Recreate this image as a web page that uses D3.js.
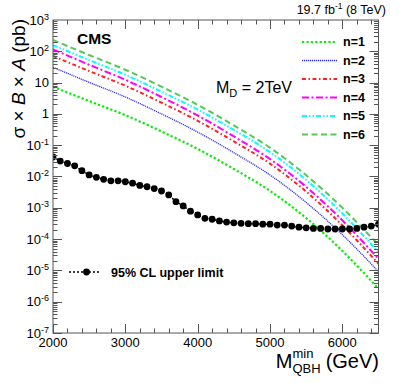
<!DOCTYPE html>
<html>
<head>
<meta charset="utf-8">
<script src="https://cdn.jsdelivr.net/npm/d3@7"></script>
<style>
  body { margin: 0; background: #fff; }
  svg text { font-family: "Liberation Sans", Arial, sans-serif; }
</style>
</head>
<body>
<div id="chart"></div>
<script>
const width = 399;
const height = 383;

// model mass points (GeV)
const massGrid = [2000, 2500, 3000, 3500, 4000, 4500, 5000, 5500, 6000, 6500];

// sigma x B x A (pb) per n
const n1 = [7.4, 2.57, 0.91, 0.275, 0.076, 0.0174, 0.00347, 4.7e-4, 4.2e-5, 2.6e-6];
const n2 = [30.9, 10.2, 3.47, 1.0, 0.263, 0.0575, 0.0112, 1.48e-3, 1.38e-4, 9.1e-6];
const n3 = [70.8, 23.4, 7.94, 2.29, 0.603, 0.132, 0.0257, 3.31e-3, 2.75e-4, 1.62e-5];
const n4 = [115, 37.2, 12.3, 3.47, 0.891, 0.191, 0.0363, 4.68e-3, 3.98e-4, 2.34e-5];
const n5 = [158, 52.5, 17.8, 5.13, 1.38, 0.309, 0.0603, 7.76e-3, 6.61e-4, 3.8e-5];
const n6 = [229, 75.9, 25.7, 7.41, 1.95, 0.427, 0.0832, 0.011, 1.0e-3, 6.46e-5];

// 95% CL upper limit, every 100 GeV from 2000 to 6500
const limitMass = d3.range(2000, 6501, 100);
const limitVals = [
  0.042, 0.031, 0.026, 0.022, 0.0153, 0.0112, 0.0094, 0.0081, 0.0073, 0.0073,
  0.0068, 0.0061, 0.0052, 0.0047, 0.0041, 0.00344, 0.00257, 0.00157, 0.00115, 0.00078,
  0.00059, 0.00046, 0.00043, 0.00038, 0.00035, 0.00033, 0.00032, 0.00031, 0.00031, 0.00030,
  0.00030, 0.00028, 0.00028, 0.00026, 0.00024, 0.00023, 0.00022, 0.00022, 0.00021, 0.00021,
  0.00021, 0.00021, 0.00022, 0.00024, 0.00026, 0.00030
];

const seriesNames = ["n=1", "n=2", "n=3", "n=4", "n=5", "n=6"];
const seriesVals = [n1, n2, n3, n4, n5, n6];
const seriesColor = ["#00f000", "#3030ff", "#ff2020", "#ff00ff", "#00ffff", "#55c855"];
const seriesDash = ["2.2,2.2", "1.2,0.8", "4,2.5,1.5,2.5", "7,2.5,2,2.5", "5,2,1.5,2,1.5,2", "6,3.5"];
const seriesWidth = [2.2, 1.3, 2, 2, 2, 2];

const xTickLabels = [2000, 3000, 4000, 5000, 6000];

const svg = d3.select("#chart").append("svg")
  .attr("width", width)
  .attr("height", height);

const x = d3.scaleLinear().domain([2000, 6500]).range([53, 378.5]);
const y = d3.scaleLog().domain([1e-7, 1e3]).range([333, 20]);

svg.append("clipPath").attr("id", "clip")
  .append("rect")
  .attr("x", x(2000)).attr("y", y(1e3))
  .attr("width", x(6500) - x(2000)).attr("height", y(1e-7) - y(1e3));

// model curves
const line = d3.line()
  .x((d, i) => x(massGrid[i]))
  .y(d => y(d))
  .curve(d3.curveMonotoneX);

const curves = svg.append("g").attr("clip-path", "url(#clip)");
seriesVals.forEach((vals, k) => {
  curves.append("path")
    .attr("d", line(vals))
    .attr("fill", "none")
    .attr("stroke", seriesColor[k])
    .attr("stroke-width", seriesWidth[k])
    .attr("stroke-dasharray", seriesDash[k]);
});

// limit line + markers
const limLine = d3.line()
  .x((d, i) => x(limitMass[i]))
  .y(d => y(d));

curves.append("path")
  .attr("d", limLine(limitVals))
  .attr("fill", "none")
  .attr("stroke", "#000")
  .attr("stroke-width", 1.5)
  .attr("stroke-dasharray", "2,2");

curves.selectAll("circle.lim")
  .data(limitVals)
  .enter().append("circle")
  .attr("class", "lim")
  .attr("cx", (d, i) => x(limitMass[i]))
  .attr("cy", d => y(d))
  .attr("r", 3.4)
  .attr("fill", "#000");

// frame and ticks (ROOT style: inside, all four sides)
const frame = svg.append("g").attr("stroke", "#555").attr("stroke-width", 1).attr("fill", "none");
frame.append("rect")
  .attr("x", x(2000)).attr("y", y(1e3))
  .attr("width", x(6500) - x(2000)).attr("height", y(1e-7) - y(1e3));

const xMinor = d3.range(2000, 6501, 200);
xMinor.forEach(v => {
  const len = v % 1000 === 0 ? 9 : 4.5;
  const px = Math.round(x(v)) + 0.5;
  frame.append("line").attr("x1", px).attr("x2", px).attr("y1", y(1e-7)).attr("y2", y(1e-7) - len);
  frame.append("line").attr("x1", px).attr("x2", px).attr("y1", y(1e3)).attr("y2", y(1e3) + len);
});

for (let e = -7; e < 3; e++) {
  for (let m = 1; m < 10; m++) {
    const v = m * Math.pow(10, e);
    const len = m === 1 ? 9 : 4.5;
    const py = Math.round(y(v)) + 0.5;
    frame.append("line").attr("x1", x(2000)).attr("x2", x(2000) + len).attr("y1", py).attr("y2", py);
    frame.append("line").attr("x1", x(6500)).attr("x2", x(6500) - len).attr("y1", py).attr("y2", py);
  }
}

// x tick labels
svg.selectAll("text.xl")
  .data(xTickLabels)
  .enter().append("text")
  .attr("class", "xl")
  .attr("x", d => x(d))
  .attr("y", 347)
  .attr("text-anchor", "middle")
  .attr("font-size", 13)
  .text(d => d);

// y tick labels
for (let e = -7; e <= 3; e++) {
  const t = svg.append("text")
    .attr("x", 49)
    .attr("y", y(Math.pow(10, e)) + 4.5)
    .attr("text-anchor", "end")
    .attr("font-size", 13);
  if (e === 0) t.text("1");
  else if (e === 1) t.text("10");
  else {
    t.append("tspan").text("10");
    t.append("tspan").attr("font-size", 9).attr("dy", -5).text(e);
  }
}

// y axis title
const yt = svg.append("text")
  .attr("transform", "translate(25,19) rotate(-90)")
  .attr("text-anchor", "end")
  .attr("font-size", 19);
yt.append("tspan").text("σ × ");
yt.append("tspan").attr("font-style", "italic").text("B");
yt.append("tspan").text(" × ");
yt.append("tspan").attr("font-style", "italic").text("A");
yt.append("tspan").text(" (pb)");

// x axis title: M_QBH^min (GeV), right aligned
const xtG = svg.append("g");
const gev = xtG.append("text").attr("x", 379).attr("y", 368)
  .attr("text-anchor", "end").attr("font-size", 20).text("(GeV)");
const gevW = gev.node().getComputedTextLength();
const sub = xtG.append("text").attr("y", 373).attr("font-size", 13).text("QBH");
const subW = sub.node().getComputedTextLength();
const subX = 379 - gevW - 5 - subW;
sub.attr("x", subX);
xtG.append("text").attr("x", subX).attr("y", 358).attr("font-size", 13).text("min");
xtG.append("text").attr("x", subX).attr("y", 368)
  .attr("text-anchor", "end").attr("font-size", 20).text("M");

// top label
const lum = svg.append("text").attr("x", 386).attr("y", 14)
  .attr("text-anchor", "end").attr("font-size", 12.5);
lum.append("tspan").text("19.7 fb");
lum.append("tspan").attr("font-size", 8.5).attr("dy", -5).text("-1");
lum.append("tspan").attr("dy", 5).text(" (8 TeV)");

// CMS
svg.append("text").attr("x", 77).attr("y", 44)
  .attr("font-size", 15.5).attr("font-weight", "bold").text("CMS");

// M_D = 2TeV
const md = svg.append("text").attr("x", 216).attr("y", 93).attr("font-size", 16);
md.append("tspan").text("M");
md.append("tspan").attr("font-size", 11).attr("dy", 4).text("D");
md.append("tspan").attr("dy", -4).text(" = 2TeV");

// legend for models
seriesNames.forEach((name, k) => {
  const by = 46 + k * 18.5;
  svg.append("line")
    .attr("x1", 302).attr("x2", 337)
    .attr("y1", by - 4).attr("y2", by - 4)
    .attr("stroke", seriesColor[k])
    .attr("stroke-width", seriesWidth[k])
    .attr("stroke-dasharray", seriesDash[k]);
  svg.append("text").attr("x", 343).attr("y", by)
    .attr("font-size", 12.5).attr("font-weight", "bold").text(name);
});

// legend for limit
svg.append("line")
  .attr("x1", 69).attr("x2", 99).attr("y1", 272).attr("y2", 272)
  .attr("stroke", "#000").attr("stroke-width", 1.5).attr("stroke-dasharray", "2,2");
svg.append("circle").attr("cx", 86.5).attr("cy", 272).attr("r", 3.4).attr("fill", "#000");
svg.append("text").attr("x", 111).attr("y", 276.5)
  .attr("font-size", 12.5).attr("font-weight", "bold").text("95% CL upper limit");
</script>
</body>
</html>
